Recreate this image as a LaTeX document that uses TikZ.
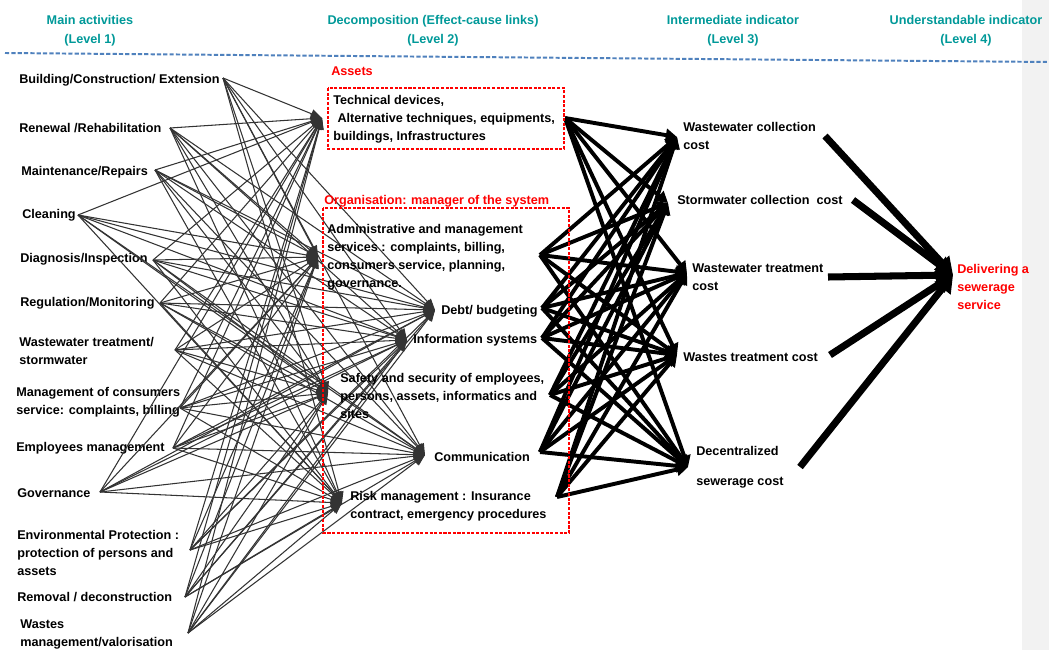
\documentclass[tikz,border=0pt]{standalone}
\usepackage{fontspec}
\setmainfont{Liberation Sans}
\usetikzlibrary{arrows.meta}
\definecolor{hdrteal}{RGB}{0,153,153}
\definecolor{hdrblue}{RGB}{79,129,189}
\definecolor{bandgray}{RGB}{242,242,242}
\begin{document}
\begin{tikzpicture}[x=0.025cm,y=-0.025cm]
\tikzset{
 lab/.style={font=\fontsize{9}{12.8}\selectfont\bfseries, inner sep=0pt, align=left, anchor=west},
 hdr/.style={font=\fontsize{9}{13.5}\selectfont\bfseries, text=hdrteal, inner sep=0pt, align=center},
 redlab/.style={lab, text=red},
 redbox/.style={draw=red, line width=1.4pt, dash pattern=on 2.2pt off 1.1pt},
 edgeA/.style={draw=black!80, line width=0.75pt, -{Triangle[length=8pt,width=6.5pt]}},
 edgeB/.style={draw=black, line width=2.8pt, -{Triangle[length=8pt,width=9pt]}},
 edgeC/.style={draw=black, line width=5pt, -{Triangle[length=12pt,width=14pt]}},
 sep/.style={draw=hdrblue, line width=1.4pt, dash pattern=on 3pt off 1.5pt},
}
\useasboundingbox (0,0) rectangle (1049,650);
\fill[white] (0,0) rectangle (1049,650);
\fill[bandgray] (1022,0) rectangle (1049,650);

% headers
\node[hdr] (h1) at (90,31) {Main activities\\(Level 1)};
\node[hdr] (h2) at (433,31) {Decomposition (Effect-cause links)\\(Level 2)};
\node[hdr] (h3) at (733,31) {Intermediate indicator\\(Level 3)};
\node[hdr] (h4) at (966,31) {Understandable indicator\\(Level 4)};
\coordinate (dl) at (5,53);
\coordinate (dr) at (1049,62);
\draw[sep] (dl) -- (dr);

% level 1 labels
\node[lab] (t1) at (19,80) {Building/Construction/ Extension};
\node[lab] (t2) at (19,128) {Renewal /Rehabilitation};
\node[lab] (t3) at (21,172) {Maintenance/Repairs};
\node[lab] (t4) at (22,215) {Cleaning};
\node[lab] (t5) at (20,259) {Diagnosis/Inspection};
\node[lab] (t6) at (20,303) {Regulation/Monitoring};
\node[lab] (t7) at (19,351) {Wastewater treatment/\\stormwater};
\node[lab] (t8) at (16,402) {Management of consumers\\service: complaints, billing};
\node[lab] (t9) at (16,448) {Employees management};
\node[lab] (t10) at (17,493) {Governance};
\node[lab] (t11) at (17,553) {Environmental Protection :\\protection of persons and\\assets};
\node[lab] (t12) at (17,597) {Removal / deconstruction};
\node[lab] (t13) at (20,634) {Wastes\\management/valorisation};

\coordinate (a1) at (223,78);
\coordinate (a2) at (170,128);
\coordinate (a3) at (155,170);
\coordinate (a4) at (78,215);
\coordinate (a5) at (153,260);
\coordinate (a6) at (160,303);
\coordinate (a7) at (175,350);
\coordinate (a8) at (180,408);
\coordinate (a9) at (173,448);
\coordinate (a10) at (100,492);
\coordinate (a11) at (190,550);
\coordinate (a12) at (185,597);
\coordinate (a13) at (188,633);

% level 2
\coordinate (b1) at (322,118);
\coordinate (b2) at (318,257);
\coordinate (b3) at (435,310);
\coordinate (b4) at (407,340);
\coordinate (b5) at (328,393);
\coordinate (b6) at (425,455);
\coordinate (b7) at (342,503);

\coordinate (c1) at (565,118);
\coordinate (c2) at (540,255);
\coordinate (c3) at (542,308);
\coordinate (c4) at (542,338);
\coordinate (c5) at (550,395);
\coordinate (c6) at (540,452);
\coordinate (c7) at (557,497);

% level 3
\coordinate (d1) at (677,137);
\coordinate (d2) at (668,203);
\coordinate (d3) at (687,273);
\coordinate (d4) at (677,355);
\coordinate (d5) at (688,467);

\coordinate (e1) at (825,136);
\coordinate (e2) at (853,200);
\coordinate (e3) at (828,277);
\coordinate (e4) at (830,355);
\coordinate (e5) at (800,467);

\coordinate (f) at (953,275);

% connectors
\foreach \i in {1,...,13} {\foreach \j in {1,...,7} {\draw[edgeA] (a\i) -- (b\j);}}
\foreach \i in {1,...,7} {\foreach \j in {1,...,5} {\draw[edgeB] (c\i) -- (d\j);}}
\foreach \i in {1,...,5} {\draw[edgeC] (e\i) -- (f);}

% level 2 labels and boxes
\node[redlab] (assets) at (331,71) {Assets};
\draw[redbox] (328,88) rectangle (564,149);
\node[lab] (tech) at (333,119) {Technical devices,\\\hspace{3pt}Alternative techniques, equipments,\\buildings, Infrastructures};
\node[redlab] (org) at (324,201) {Organisation: manager of the system};
\draw[redbox] (323,208) rectangle (569,533);
\node[lab] (adm) at (327,257) {Administrative and management\\services : complaints, billing,\\consumers service, planning,\\governance.};
\node[lab] (debt) at (441,311) {Debt/ budgeting};
\node[lab] (info) at (413,340) {Information systems};
\node[lab] (saf) at (340,396) {Safety and security of employees,\\persons, assets, informatics and\\sites};
\node[lab] (comm) at (434,457) {Communication};
\node[lab] (risk) at (350,506) {Risk management : Insurance\\contract, emergency procedures};

% level 3 labels
\node[lab] (w1) at (683,136) {Wastewater collection\\cost};
\node[lab] (w2) at (677,200) {Stormwater collection\ \ cost};
\node[lab] (w3) at (692,277) {Wastewater treatment\\cost};
\node[lab] (w4) at (683,357) {Wastes treatment cost};
\node[lab] (w5) at (696,467) {Decentralized\\[8.5pt]sewerage cost};

% level 4
\node[redlab] (deliv) at (957,287) {Delivering a\\sewerage\\service};
\end{tikzpicture}
\end{document}
